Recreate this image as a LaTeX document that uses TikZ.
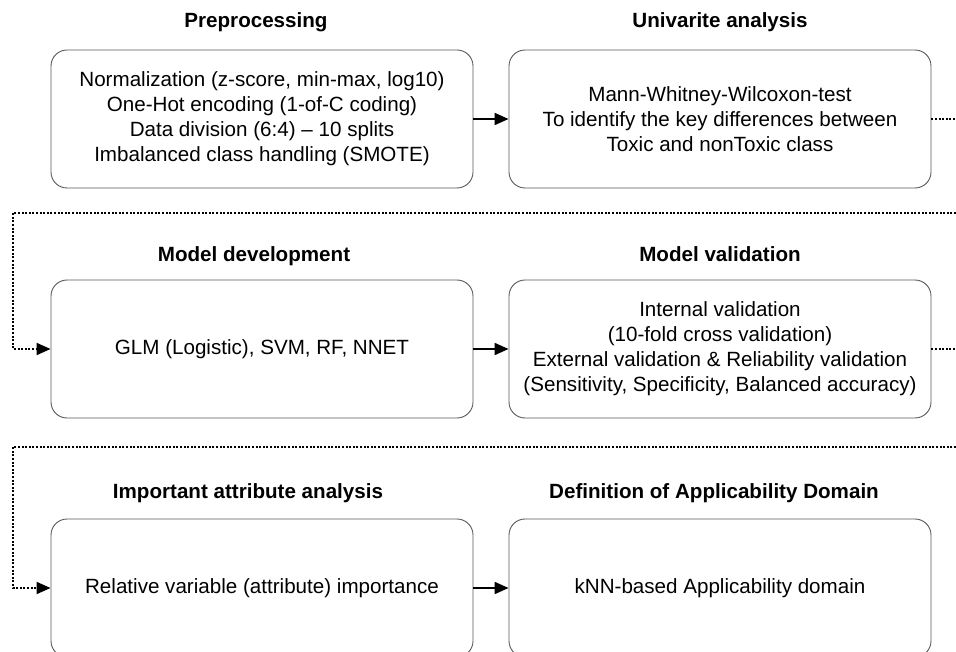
\documentclass[tikz,border=0pt]{standalone}
\usepackage{fontspec}
\setmainfont{Liberation Sans}
\usetikzlibrary{arrows.meta}

\colorlet{frame}{black!65}
\colorlet{link}{black}

\begin{document}
\begin{tikzpicture}[x=1pt, y=-1pt,
  every node/.style={font=\fontsize{20.6}{25}\selectfont},
  box/.style={draw=frame, line width=0.9pt, rounded corners=16pt, minimum width=422pt, minimum height=138pt, align=center, inner sep=0pt},
  title/.style={anchor=base, font=\fontsize{20.6}{25}\selectfont\bfseries},
  flow/.style={line width=2pt, color=link, -{Triangle[length=14pt, width=12pt]}},
  wrap/.style={line width=2.2pt, color=link, dash pattern=on 2pt off 1.6pt}]
  \useasboundingbox (0,0) rectangle (956,652);
  % row 1
  \draw (256, 28)  node[title] (tpre) {Preprocessing};
  \draw (720, 28)  node[title] (tuni) {Univarite analysis};
  \draw (262, 119) node[box] (pre) {Normalization (z-score, min-max, log10)\\One-Hot encoding (1-of-C coding)\\Data division (6:4) – 10 splits\\Imbalanced class handling (SMOTE)};
  \draw (720, 119) node[box] (uni) {Mann-Whitney-Wilcoxon-test\\To identify the key differences between\\Toxic and nonToxic class};
  % row 2
  \draw (254, 262) node[title] (tdev) {Model development};
  \draw (720, 262) node[title] (tval) {Model validation};
  \draw (262, 349) node[box] (dev) {GLM (Logistic), SVM, RF, NNET};
  \draw (720, 349) node[box] (val) {Internal validation\\(10-fold cross validation)\\External validation \& Reliability validation\\(Sensitivity, Specificity, Balanced accuracy)};
  % row 3
  \draw (248, 498) node[title] (timp) {Important attribute analysis};
  \draw (714, 498) node[title] (tad) {Definition of Applicability Domain};
  \draw (262, 588) node[box] (imp) {Relative variable (attribute) importance};
  \draw (720, 588) node[box] (ad) {kNN-based Applicability domain};
  % wrap points
  \coordinate (e1) at (956, 119);
  \coordinate (e2) at (956, 349);
  \coordinate (w1) at (956, 213);
  \coordinate (v1) at (13, 213);
  \coordinate (w2) at (956, 447);
  \coordinate (v2) at (13, 447);
  % connectors
  \draw[flow] (pre) -- (uni);
  \draw[flow] (dev) -- (val);
  \draw[flow] (imp) -- (ad);
  \draw[wrap] (uni.east) -- (e1);
  \draw[wrap] (val.east) -- (e2);
  \draw[wrap] (w1) -- (v1) |- ([xshift=-14pt]dev.west);
  \draw[wrap] (w2) -- (v2) |- ([xshift=-14pt]imp.west);
  \draw[flow] ([xshift=-14pt]dev.west) -- (dev.west);
  \draw[flow] ([xshift=-14pt]imp.west) -- (imp.west);
\end{tikzpicture}
\end{document}
